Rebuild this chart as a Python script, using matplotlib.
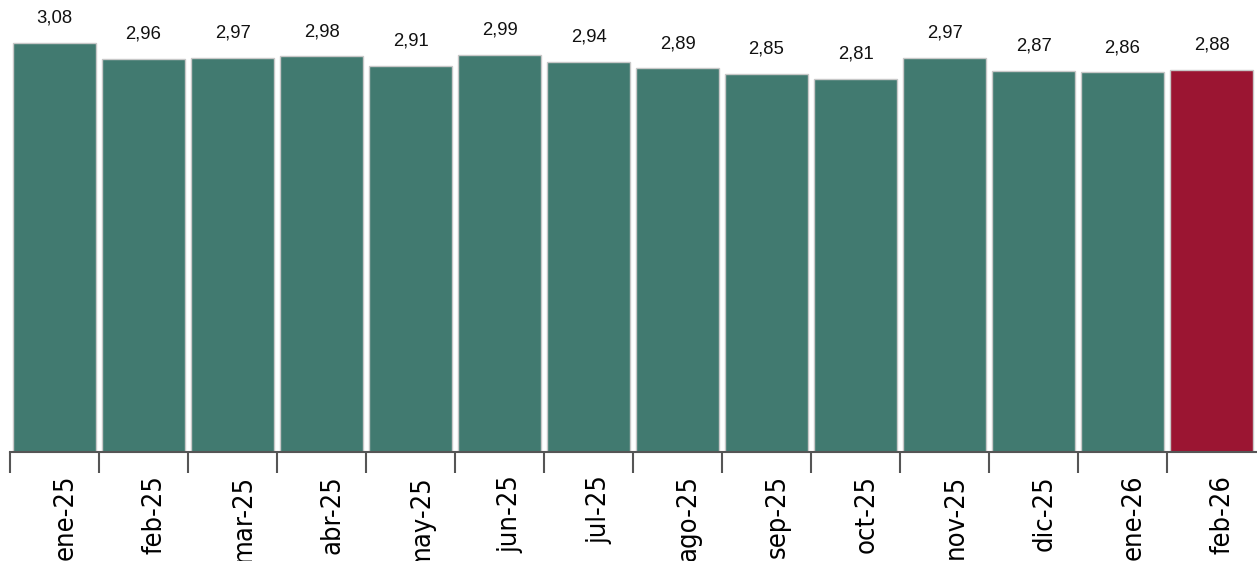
import matplotlib
matplotlib.use('Agg')
import matplotlib.pyplot as plt
import matplotlib.transforms as mtransforms
import numpy as np

# Monthly values
months = ['ene-25', 'feb-25', 'mar-25', 'abr-25', 'may-25', 'jun-25', 'jul-25',
          'ago-25', 'sep-25', 'oct-25', 'nov-25', 'dic-25', 'ene-26', 'feb-26']
values = [3.08, 2.96, 2.97, 2.98, 2.91, 2.99, 2.94,
          2.89, 2.85, 2.81, 2.97, 2.87, 2.86, 2.88]

green = '#417A70'
red = '#9B1532'

fig = plt.figure(figsize=(12.57, 5.61), dpi=100)
ax = fig.add_axes([10 / 1257, 109 / 561, 1246 / 1257, 452 / 561])

x = np.arange(len(months))
colors = [green] * (len(months) - 1) + [red]
bars = ax.bar(x, values, width=0.93, color=colors, edgecolor='#c8c8c8',
              linewidth=1.0)

for xi, v in zip(x, values):
    ax.annotate(f'{v:.2f}'.replace('.', ','), (xi, v), xytext=(0, 14.5),
                textcoords='offset points', ha='center', va='baseline',
                fontsize=13.3, family=['Liberation Sans', 'DejaVu Sans'],
                color='#111111')

ax.set_xlim(-0.5, len(months) - 0.5)
ax.set_ylim(0, 3.404)

for s in ['top', 'left', 'right']:
    ax.spines[s].set_visible(False)
ax.spines['bottom'].set_color('#555555')
ax.spines['bottom'].set_linewidth(1.5)
ax.set_yticks([])

ax.set_xticks(x)
ax.set_xticklabels(months, rotation=90, fontsize=19.5, fontstretch='condensed',
                   family=['DejaVu Sans'])
ax.tick_params(axis='x', which='major', length=0, pad=16.5, colors='#000000')
ax.set_xticks(np.arange(-0.5, len(months) - 1), minor=True)
ax.tick_params(axis='x', which='minor', length=15, width=1.5, color='#555555')

offset = mtransforms.ScaledTranslation(11 / 100, 0, fig.dpi_scale_trans)
for lab in ax.get_xticklabels():
    lab.set_transform(lab.get_transform() + offset)

fig.savefig('out.png', dpi=100)
